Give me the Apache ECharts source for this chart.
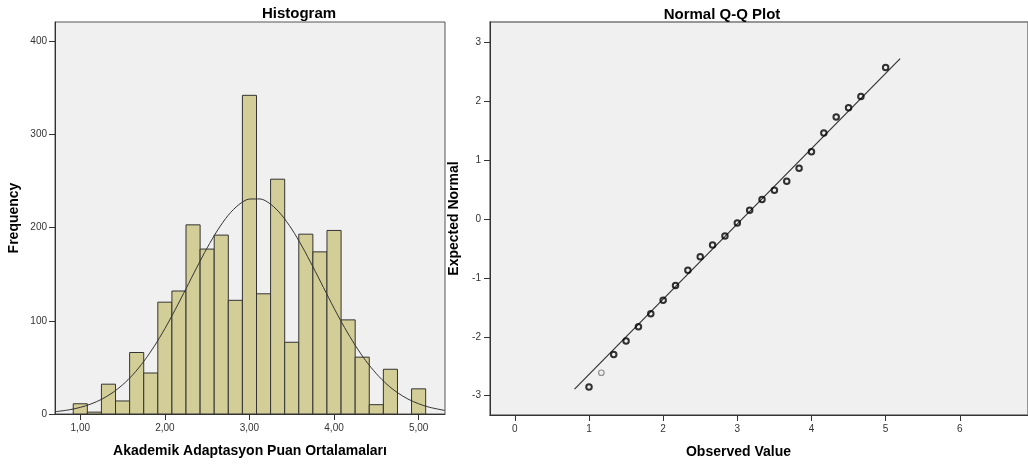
<!DOCTYPE html>
<html>
<head>
<meta charset="utf-8">
<script src="https://cdn.jsdelivr.net/npm/echarts@6/dist/echarts.min.js"></script>
<style>html,body{margin:0;padding:0;background:#fff}#c{width:1028px;height:467px}</style>
</head>
<body>
<div id="c"></div>
<script>
// Histogram data
const binCenters = [1.0000,1.1667,1.3333,1.5000,1.6667,1.8333,2.0000,2.1667,2.3333,2.5000,2.6667,2.8333,3.0000,3.1667,3.3333,3.5000,3.6667,3.8333,4.0000,4.1667,4.3333,4.5000,4.6667,4.8333,5.0000];
const frequencies = [11,2,32,14,66,44,120,132,203,177,192,122,342,129,252,77,193,174,197,101,61,10,48,0,27];
const binWidth = 0.1667;
// Normal curve
const curveX = [0.70,0.875,1.00,1.125,1.25,1.375,1.50,1.625,1.75,1.875,2.00,2.125,2.25,2.375,2.50,2.625,2.75,2.875,3.00,3.125,3.25,3.375,3.50,3.625,3.75,3.875,4.00,4.125,4.25,4.375,4.50,4.625,4.75,4.875,5.00,5.125,5.31];
const curveY = [2.4,4.6,7.1,10.7,15.7,22.5,31.3,42.5,56.4,72.8,91.6,112.5,134.5,156.8,178.3,197.5,213.4,224.7,230.7,230.8,225.2,214.1,198.5,179.4,158.1,135.8,113.6,92.7,73.8,57.2,43.3,31.9,22.9,16.0,11.0,7.3,3.8];
const histXTicks = [1,2,3,4,5];
const histYTicks = [0,100,200,300,400];
// Q-Q data
const observedValues = [1.0000,1.1667,1.3333,1.5000,1.6667,1.8333,2.0000,2.1667,2.3333,2.5000,2.6667,2.8333,3.0000,3.1667,3.3333,3.5000,3.6667,3.8333,4.0000,4.1667,4.3333,4.5000,4.6667,5.0000];
const expectedNormal = [-2.85,-2.61,-2.30,-2.07,-1.83,-1.61,-1.38,-1.13,-0.87,-0.64,-0.44,-0.29,-0.07,0.15,0.33,0.49,0.64,0.86,1.14,1.46,1.73,1.89,2.08,2.57];
const refLineX = [0.805,5.196];
const refLineY = [-2.889,2.721];
const qqXTicks = [0,1,2,3,4,5,6];
const qqYTicks = [-3,-2,-1,0,1,2,3];

const FONT = 'Liberation Sans, Arial, sans-serif';
const chart = echarts.init(document.getElementById('c'), null, {renderer:'canvas'});

const tickLabel = {color:'#333', fontSize:10, fontFamily:FONT};
const nameStyle = {color:'#000', fontSize:14, fontWeight:'bold', fontFamily:FONT};

const histData = binCenters.map((c,i)=>[c, frequencies[i]]);
const curveData = curveX.map((x,i)=>[x, curveY[i]]);
const qqData = observedValues.map((x,i)=>{
  const d = {value:[x, expectedNormal[i]]};
  if (i === 1) d.itemStyle = {borderColor:'#777', borderWidth:1.2};
  return d;
});
const lineData = refLineX.map((x,i)=>[x, refLineY[i]]);

const axisLine = {show:true, onZero:false, lineStyle:{color:'#333', width:1}};
const tickStyle = {color:'#333'};

chart.setOption({
  animation:false,
  backgroundColor:'#fff',
  title:[
    {text:'Histogram', left:294, top:1, textAlign:'center', textStyle:{fontSize:15, fontWeight:'bold', color:'#000', fontFamily:FONT}},
    {text:'Normal Q-Q Plot', left:717, top:2, textAlign:'center', textStyle:{fontSize:15, fontWeight:'bold', color:'#000', fontFamily:FONT}}
  ],
  grid:[
    {left:55, right:583, top:22, bottom:53, show:true, backgroundColor:'#f0f0f0', borderColor:'#555', borderWidth:1, containLabel:false},
    {left:490, right:-3, top:22, bottom:52, show:true, backgroundColor:'#f0f0f0', borderColor:'#777', borderWidth:1.5, containLabel:false}
  ],
  xAxis:[
    {type:'value', gridIndex:0, min:0.701, max:5.312,
     name:'Akademik Adaptasyon Puan Ortalamaları', nameLocation:'middle', nameGap:30, nameTextStyle:nameStyle,
     axisLine:axisLine,
     axisTick:{show:true, length:6, lineStyle:tickStyle, customValues:histXTicks},
     axisLabel:{...tickLabel, margin:9, customValues:histXTicks, formatter:v=>v.toFixed(2).replace('.',',')},
     splitLine:{show:false}},
    {type:'value', gridIndex:1, min:-0.335, max:6.92,
     name:'Observed Value', nameLocation:'middle', nameGap:30, nameTextStyle:{...nameStyle, padding:[0,41,0,0]},
     axisLine:axisLine,
     axisTick:{show:true, length:6, lineStyle:tickStyle, customValues:qqXTicks},
     axisLabel:{...tickLabel, margin:9, customValues:qqXTicks},
     splitLine:{show:false}}
  ],
  yAxis:[
    {type:'value', gridIndex:0, min:0, max:420.7,
     name:'Frequency', nameLocation:'middle', nameGap:34, nameRotate:90, nameTextStyle:nameStyle,
     axisLine:axisLine,
     axisTick:{show:true, length:6, lineStyle:tickStyle, customValues:histYTicks},
     axisLabel:{...tickLabel, margin:8, customValues:histYTicks},
     splitLine:{show:false}},
    {type:'value', gridIndex:1, min:-3.327, max:3.344,
     name:'Expected Normal', nameLocation:'middle', nameGap:21, nameRotate:90, nameTextStyle:nameStyle,
     axisLine:axisLine,
     axisTick:{show:true, length:6, lineStyle:tickStyle, customValues:qqYTicks},
     axisLabel:{...tickLabel, margin:9, customValues:qqYTicks},
     splitLine:{show:false}}
  ],
  series:[
    {type:'custom', xAxisIndex:0, yAxisIndex:0, data:histData,
     renderItem:function(params, api){
       const c = api.value(0), v = api.value(1);
       if (!v) return null;
       const p0 = api.coord([c - binWidth/2, v]);
       const p1 = api.coord([c + binWidth/2, 0]);
       return {type:'rect', shape:{x:p0[0], y:p0[1], width:p1[0]-p0[0], height:p1[1]-p0[1]},
               style:{fill:'#d3ce97', stroke:'#333', lineWidth:1}};
     }},
    {type:'line', xAxisIndex:0, yAxisIndex:0, data:curveData, smooth:0.3, showSymbol:false,
     lineStyle:{color:'#333', width:1}, z:5},
    {type:'line', xAxisIndex:1, yAxisIndex:1, data:lineData, showSymbol:false,
     lineStyle:{color:'#333', width:1.2}, z:3},
    {type:'scatter', xAxisIndex:1, yAxisIndex:1, data:qqData, symbol:'circle', symbolSize:5.5,
     itemStyle:{color:'rgba(0,0,0,0)', borderColor:'#000', borderWidth:2}, z:4}
  ]
});
</script>
</body>
</html>
